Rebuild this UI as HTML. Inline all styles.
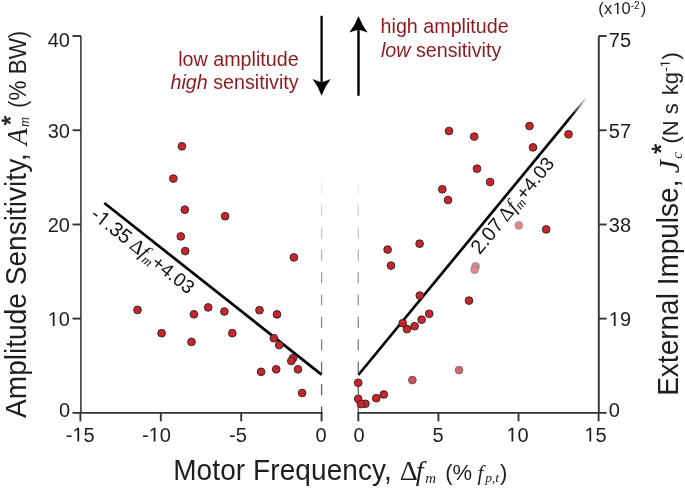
<!DOCTYPE html><html><head><meta charset="utf-8"><style>html,body{margin:0;padding:0;background:#fff;}svg{display:block;will-change:transform}</style></head><body>
<svg width="685" height="488" viewBox="0 0 685 488" font-family="Liberation Sans, sans-serif">
<defs><linearGradient id="dg" x1="0" y1="160" x2="0" y2="413" gradientUnits="userSpaceOnUse"><stop offset="0" stop-color="#666" stop-opacity="0"/><stop offset="0.45" stop-color="#666" stop-opacity="0.6"/><stop offset="1" stop-color="#555" stop-opacity="1"/></linearGradient><linearGradient id="rg" x1="567" y1="121.4" x2="586" y2="98.3" gradientUnits="userSpaceOnUse"><stop offset="0" stop-color="#000" stop-opacity="1"/><stop offset="0.35" stop-color="#000" stop-opacity="0.9"/><stop offset="1" stop-color="#000" stop-opacity="0.08"/></linearGradient></defs>
<line x1="321.6" y1="160" x2="321.6" y2="413" stroke="url(#dg)" stroke-width="1.3" stroke-dasharray="11.2 11.2"/>
<line x1="358.3" y1="160" x2="358.3" y2="413" stroke="url(#dg)" stroke-width="1.3" stroke-dasharray="11.2 11.2"/>
<g stroke="#333" stroke-width="1.9" fill="none" stroke-linecap="butt">
<path d="M80.9 36.0 V412.9" stroke="#3a3a3a" stroke-width="1.6"/>
<path d="M72.5 412.9 H322.5"/>
<path d="M72.5 36.0 H81"/>
<path d="M72.5 130.25 H81"/>
<path d="M72.5 224.5 H81"/>
<path d="M72.5 318.6 H81"/>
<path d="M80.40 412.9 V421.3"/>
<path d="M160.80 412.9 V421.3"/>
<path d="M241.20 412.9 V421.3"/>
<path d="M321.60 412.9 V421.3"/>
<path d="M357.40000000000003 412.9 H606.6"/>
<path d="M598.8 36.0 V412.9"/>
<path d="M598.8 36.0 H606.6"/>
<path d="M598.8 130.25 H606.6"/>
<path d="M598.8 224.5 H606.6"/>
<path d="M598.8 318.6 H606.6"/>
<path d="M358.30 412.9 V421.3"/>
<path d="M438.40 412.9 V421.3"/>
<path d="M518.50 412.9 V421.3"/>
<path d="M598.60 412.9 V421.3"/>
</g>
<g fill="#1e1e1e">
<text x="47.75" y="47.0" font-size="20" >40</text>
<text x="47.75" y="138.3" font-size="20" >30</text>
<text x="47.75" y="232.2" font-size="20" >20</text>
<text x="47.75" y="326.0" font-size="20" > 0</text><path transform="translate(47.75,326.0) scale(0.00977,-0.00977)" d="M515 0L515 1237L197 1010L197 1180L530 1409L696 1409L696 0Z"/>
<text x="58.88" y="416.8" font-size="20" >0</text>
<text x="608.80" y="47.0" font-size="20" >75</text>
<text x="608.80" y="138.4" font-size="20" >57</text>
<text x="608.80" y="231.8" font-size="20" >38</text>
<text x="608.80" y="326.0" font-size="20" > 9</text><path transform="translate(608.80,326.0) scale(0.00977,-0.00977)" d="M515 0L515 1237L197 1010L197 1180L530 1409L696 1409L696 0Z"/>
<text x="608.80" y="417.0" font-size="20" >0</text>
<text x="65.69" y="441.6" font-size="20" >- 5</text><path transform="translate(72.35,441.6) scale(0.00977,-0.00977)" d="M515 0L515 1237L197 1010L197 1180L530 1409L696 1409L696 0Z"/>
<text x="141.99" y="441.6" font-size="20" >- 0</text><path transform="translate(148.65,441.6) scale(0.00977,-0.00977)" d="M515 0L515 1237L197 1010L197 1180L530 1409L696 1409L696 0Z"/>
<text x="229.12" y="441.6" font-size="20" >-5</text>
<text x="315.54" y="441.6" font-size="20" >0</text>
<text x="353.44" y="441.6" font-size="20" >0</text>
<text x="432.44" y="441.6" font-size="20" >5</text>
<text x="506.48" y="441.6" font-size="20" > 0</text><path transform="translate(506.48,441.6) scale(0.00977,-0.00977)" d="M515 0L515 1237L197 1010L197 1180L530 1409L696 1409L696 0Z"/>
<text x="584.38" y="441.6" font-size="20" > 5</text><path transform="translate(584.38,441.6) scale(0.00977,-0.00977)" d="M515 0L515 1237L197 1010L197 1180L530 1409L696 1409L696 0Z"/>
<text x="598.3" y="14" font-size="16.5">(</text>
<text x="604.0" y="14" font-size="16.5">x</text>
<text x="612.90" y="14" font-size="16.5" > </text><path transform="translate(612.90,14) scale(0.00806,-0.00806)" d="M515 0L515 1237L197 1010L197 1180L530 1409L696 1409L696 0Z"/>
<text x="621.4" y="14" font-size="16.5">0</text>
<text x="630.7" y="8.9" font-size="10">-</text>
<text x="634.1" y="8.9" font-size="10">2</text>
<text x="640.7" y="14" font-size="16.5">)</text>
</g>
<line x1="104.3" y1="203.0" x2="321.6" y2="374.6" stroke="#000" stroke-width="2.7"/>
<line x1="358.3" y1="375.0" x2="567.5" y2="120.8" stroke="#000" stroke-width="2.7"/>
<polygon fill="url(#rg)" points="568.04,122.26 586.66,98.84 585.34,97.76 565.96,120.54"/>
<g transform="translate(89.55,216.7) rotate(38.4)" font-size="20" fill="#111"><text x="0" y="0">- .35 <tspan font-family="Liberation Serif, serif" dx="-1.5">Δ</tspan><tspan font-family="Liberation Serif, serif" font-style="italic">f</tspan><tspan font-family="Liberation Serif, serif" font-style="italic" font-size="13" dy="3">m</tspan><tspan dy="-3" font-size="19">+4.03</tspan></text><path transform="translate(6.66,0) scale(0.00977,-0.00977)" d="M515 0L515 1237L197 1010L197 1180L530 1409L696 1409L696 0Z"/></g>
<g transform="translate(479.8,255.3) rotate(-50.5)" font-size="20" fill="#111"><text x="0" y="0">2.07 <tspan font-family="Liberation Serif, serif" dx="-2">Δ</tspan><tspan font-family="Liberation Serif, serif" font-style="italic">f</tspan><tspan font-family="Liberation Serif, serif" font-style="italic" font-size="13" dy="3">m</tspan><tspan dy="-3" font-size="19">+4.03</tspan></text></g>
<g fill="#c9252d" stroke="#352224" stroke-width="0.95">
<circle cx="181.9" cy="146.3" r="3.85"/>
<circle cx="173.3" cy="178.6" r="3.85"/>
<circle cx="184.8" cy="209.7" r="3.85"/>
<circle cx="225.1" cy="216.2" r="3.85"/>
<circle cx="180.8" cy="236.4" r="3.85"/>
<circle cx="185.2" cy="251.1" r="3.85"/>
<circle cx="293.9" cy="257.4" r="3.85"/>
<circle cx="137.5" cy="309.9" r="3.85"/>
<circle cx="161.6" cy="333.2" r="3.85"/>
<circle cx="191.5" cy="341.9" r="3.85"/>
<circle cx="193.9" cy="314.3" r="3.85"/>
<circle cx="208.2" cy="307.4" r="3.85"/>
<circle cx="224.4" cy="311.5" r="3.85"/>
<circle cx="232.3" cy="333.2" r="3.85"/>
<circle cx="259.5" cy="310.2" r="3.85"/>
<circle cx="277.0" cy="314.4" r="3.85"/>
<circle cx="273.8" cy="338.2" r="3.85"/>
<circle cx="279.2" cy="345.1" r="3.85"/>
<circle cx="293.0" cy="358.2" r="3.85"/>
<circle cx="291.3" cy="361.0" r="3.85"/>
<circle cx="298.0" cy="369.3" r="3.85"/>
<circle cx="276.2" cy="369.3" r="3.85"/>
<circle cx="261.1" cy="371.8" r="3.85"/>
<circle cx="302.1" cy="393.0" r="3.85"/>
<circle cx="449.0" cy="131.0" r="3.85"/>
<circle cx="474.2" cy="136.6" r="3.85"/>
<circle cx="529.5" cy="126.0" r="3.85"/>
<circle cx="568.5" cy="134.3" r="3.85"/>
<circle cx="533.0" cy="147.4" r="3.85"/>
<circle cx="477.0" cy="168.7" r="3.85"/>
<circle cx="490.1" cy="182.0" r="3.85"/>
<circle cx="442.3" cy="189.3" r="3.85"/>
<circle cx="448.0" cy="200.0" r="3.85"/>
<circle cx="546.2" cy="229.4" r="3.85"/>
<circle cx="387.6" cy="249.6" r="3.85"/>
<circle cx="391.0" cy="265.6" r="3.85"/>
<circle cx="419.6" cy="243.7" r="3.85"/>
<circle cx="419.8" cy="295.5" r="3.85"/>
<circle cx="469.0" cy="300.6" r="3.85"/>
<circle cx="429.2" cy="313.8" r="3.85"/>
<circle cx="421.6" cy="319.7" r="3.85"/>
<circle cx="407.0" cy="329.1" r="3.85"/>
<circle cx="402.7" cy="323.2" r="3.85"/>
<circle cx="414.6" cy="326.2" r="3.85"/>
<circle cx="358.2" cy="382.8" r="3.85"/>
<circle cx="358.2" cy="398.9" r="3.85"/>
<circle cx="365.4" cy="403.8" r="3.85"/>
<circle cx="360.9" cy="404.1" r="3.85"/>
<circle cx="376.3" cy="398.2" r="3.85"/>
<circle cx="383.8" cy="394.5" r="3.85"/>
<circle cx="412.4" cy="380.1" r="3.85" fill="#d34c53" stroke="#5d5555"/>
<circle cx="459.1" cy="370.1" r="3.85" fill="#d9646a" stroke="#736c6c"/>
<circle cx="518.85" cy="225.4" r="3.85" fill="#e1878c" stroke="#938d8d"/>
<circle cx="475.6" cy="266.4" r="3.85" fill="#e1878c" stroke="#938d8d"/>
<circle cx="474.6" cy="269.7" r="3.85" fill="#e1878c" stroke="#938d8d"/>
</g>
<g fill="#000">
<rect x="320.45" y="15.8" width="2.3" height="67"/>
<path d="M312.5 79.1 Q317 80.7 321.6 82.4 Q326.2 80.7 330.7 79.1 Q324.9 86.7 321.6 95.7 Q318.3 86.7 312.5 79.1 Z"/>
<rect x="357.3" y="29" width="2.4" height="66.8"/>
<path d="M349.3 32.5 Q353.9 30.9 358.5 29.4 Q363.1 30.9 367.6 32.5 Q361.8 25.0 358.5 16.1 Q355.2 25.0 349.3 32.5 Z"/>
</g>
<g font-size="19.7" fill="#8a1a1f">
<text x="298.6" y="65.6" text-anchor="end">low amplitude</text>
<text x="298.6" y="89.2" text-anchor="end"><tspan font-style="italic">high</tspan> sensitivity</text>
<text x="380.6" y="33" >high amplitude</text>
<text x="380.9" y="56.5"><tspan font-style="italic">low</tspan> sensitivity</text>
</g>
<g fill="#1e1e1e">
<text x="173.2" y="479.9" font-size="28" letter-spacing="0.1" transform="translate(0,479.9) scale(1,1.04) translate(0,-479.9)">Motor Frequency,</text>
<text x="399.7" y="479.6" font-size="28" font-family="Liberation Serif, serif">Δ</text>
<text x="415.8" y="479.6" font-size="28" font-family="Liberation Serif, serif" font-style="italic">f</text>
<text x="425.2" y="483.4" font-size="15" font-family="Liberation Serif, serif" font-style="italic">m</text>
<text x="445.2" y="479.7" font-size="22">(%</text>
<text x="477.6" y="479.5" font-size="21" font-family="Liberation Serif, serif" font-style="italic">f</text>
<text x="485.2" y="482.0" font-size="13.5" font-family="Liberation Serif, serif" font-style="italic">p,t</text>
<text x="500" y="479.7" font-size="22">)</text>
</g>
<g transform="translate(26.4,417.9) rotate(-90)" fill="#1e1e1e">
<text x="0" y="0" font-size="28.1" transform="scale(1,1.045)">Amplitude Sensitivity,</text>
<text x="272.6" y="0.1" font-size="28" font-family="Liberation Serif, serif" font-style="italic" transform="scale(1,1.05)">A</text>
<text x="292.6" y="-7.0" font-size="24" stroke="#1e1e1e" stroke-width="0.7">*</text>
<text x="290.9" y="2.5" font-size="14" font-family="Liberation Serif, serif" font-style="italic">m</text>
<text x="309.8" y="0" font-size="22.5" transform="scale(1,1.045)">(% BW)</text>
</g>
<g transform="translate(678,395.8) rotate(-90)" fill="#1e1e1e">
<text x="0" y="0" font-size="28" transform="scale(1,1.045)">External Impulse,</text>
<text x="222.6" y="0.6" font-size="30" font-family="Liberation Serif, serif" font-style="italic">J</text>
<text x="242" y="-8.4" font-size="25" stroke="#1e1e1e" stroke-width="0.7">*</text>
<text x="237" y="3.8" font-size="15" font-family="Liberation Serif, serif" font-style="italic">c</text>
<text x="252.2" y="0" font-size="22" transform="scale(1,1.045)">(N s</text>
<text x="300.6" y="0" font-size="22" transform="scale(1,1.045)">kg</text>
<text x="324.00" y="-8.3" font-size="13.5" >- </text><path transform="translate(328.50,-8.3) scale(0.00659,-0.00659)" d="M515 0L515 1237L197 1010L197 1180L530 1409L696 1409L696 0Z"/>
<text x="336.3" y="0" font-size="22">)</text>
</g>
</svg></body></html>
